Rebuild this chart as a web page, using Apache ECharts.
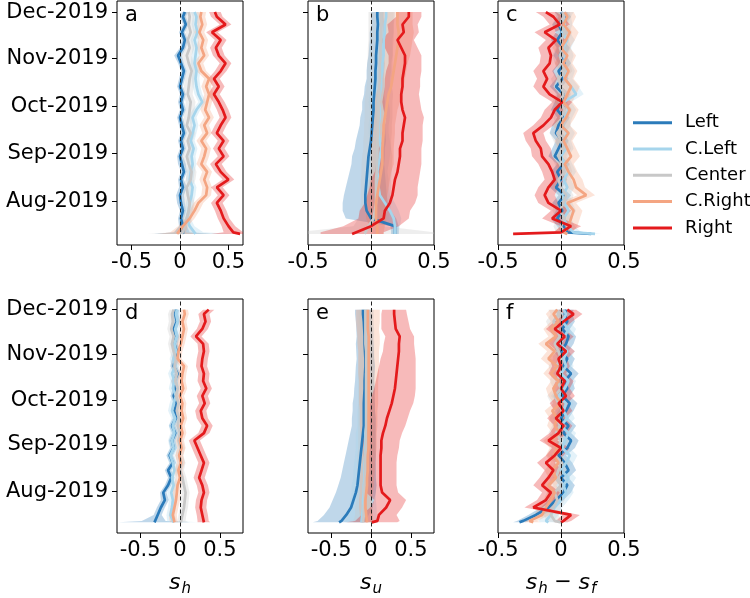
<!DOCTYPE html>
<html><head><meta charset="utf-8">
<script src="https://cdn.jsdelivr.net/npm/echarts@6/dist/echarts.min.js"></script>
<style>html,body{margin:0;padding:0;background:#fff}#c{width:750px;height:598px}</style>
</head><body><div id="c"></div><script>
// ---------- data ----------
const dates = ['2019-07-11','2019-07-12','2019-07-16','2019-07-21','2019-07-26','2019-07-31','2019-08-05','2019-08-10','2019-08-15','2019-08-20','2019-08-25','2019-08-30','2019-09-04','2019-09-09','2019-09-14','2019-09-19','2019-09-24','2019-09-29','2019-10-04','2019-10-09','2019-10-14','2019-10-19','2019-10-24','2019-10-29','2019-11-03','2019-11-08','2019-11-13','2019-11-18','2019-11-23','2019-11-28','2019-12-01'];
const monthTicks = ['2019-08-01','2019-09-01','2019-10-01','2019-11-01','2019-12-01'];
const monthLabels = ['Aug-2019','Sep-2019','Oct-2019','Nov-2019','Dec-2019'];
const xTicks = [-0.5, 0, 0.5];
const xTickLabels = ['-0.5', '0', '0.5'];
const groupNames = ['Left','C.Left','Center','C.Right','Right'];

// panel a (s_h)
const aLeft   = [0.03,0.02,0.03,0.01,0.03, 0.01,0.00,0.03,0.01,0.04, 0.02,0.00,0.03,0.01,0.04, 0.02,0.00,0.03,0.01,0.03, 0.00,0.02,0.04,0.01,-0.02, 0.03,0.05,0.02,0.06,0.03, 0.05];
const aLeftW  = [0.30,0.08,0.04,0.03,0.03, 0.04,0.04,0.04,0.03,0.03, 0.04,0.03,0.03,0.03,0.03, 0.03,0.03,0.03,0.03,0.03, 0.03,0.03,0.03,0.03,0.04, 0.03,0.03,0.03,0.03,0.03, 0.03];
const aCLeft  = [0.16,0.14,0.10,0.07,0.09, 0.10,0.12,0.13,0.10,0.11, 0.13,0.12,0.14,0.11,0.13, 0.15,0.13,0.17,0.23,0.19, 0.17,0.16,0.17,0.15,0.16, 0.17,0.15,0.18,0.16,0.17, 0.15];
const aCLeftW = [0.40,0.10,0.05,0.04,0.04, 0.04,0.04,0.04,0.04,0.04, 0.04,0.04,0.04,0.04,0.04, 0.04,0.04,0.04,0.04,0.04, 0.04,0.04,0.04,0.04,0.04, 0.04,0.04,0.04,0.04,0.04, 0.04];
const aCenter = [0.02,0.03,0.05,0.07,0.09, 0.10,0.08,0.07,0.11,0.12, 0.09,0.07,0.10,0.08,0.11, 0.07,0.09,0.10,0.11,0.08, 0.09,0.10,0.12,0.09,0.07, 0.10,0.08,0.11,0.09,0.10, 0.09];
const aCenterW= [0.35,0.10,0.05,0.05,0.05, 0.05,0.05,0.05,0.05,0.05, 0.05,0.05,0.05,0.05,0.05, 0.05,0.05,0.05,0.05,0.05, 0.05,0.05,0.05,0.05,0.05, 0.05,0.05,0.05,0.05,0.05, 0.05];
const aCRight = [-0.03,-0.02,0.03,0.10,0.15, 0.19,0.27,0.28,0.25,0.28, 0.22,0.25,0.27,0.22,0.28, 0.25,0.30,0.26,0.28,0.30, 0.27,0.30,0.22,0.19,0.25, 0.22,0.24,0.20,0.23,0.21, 0.22];
const aCRightW= [0.20,0.08,0.05,0.05,0.05, 0.05,0.05,0.05,0.05,0.05, 0.05,0.05,0.05,0.05,0.05, 0.05,0.05,0.05,0.05,0.05, 0.05,0.05,0.05,0.05,0.05, 0.05,0.05,0.05,0.05,0.05, 0.05];
const aRight  = [0.62,0.55,0.50,0.45,0.42, 0.38,0.45,0.38,0.50,0.42, 0.37,0.45,0.40,0.45,0.38, 0.42,0.47,0.44,0.40,0.35, 0.40,0.35,0.42,0.47,0.40, 0.37,0.42,0.33,0.47,0.38, 0.36];
const aRightW = [0.30,0.10,0.07,0.06,0.06, 0.06,0.06,0.06,0.06,0.06, 0.06,0.06,0.06,0.06,0.06, 0.06,0.06,0.06,0.06,0.06, 0.06,0.06,0.06,0.06,0.06, 0.06,0.06,0.06,0.06,0.06, 0.06];

// panel b (s_u)
const bLeft   = [0.19,0.19,0.19,0.00,-0.035, -0.045,-0.045,-0.04,-0.035,-0.03, -0.025,-0.02,-0.01,0.00,0.005, 0.01,0.015,0.02,0.02,0.025, 0.03,0.035,0.035,0.04,0.04, 0.045,0.05,0.05,0.055,0.05, 0.05];
const bLeftW  = [0.03,0.03,0.03,0.20,0.19, 0.18,0.17,0.16,0.15,0.14, 0.13,0.13,0.12,0.12,0.11, 0.10,0.10,0.09,0.09,0.08, 0.08,0.07,0.07,0.07,0.06, 0.06,0.06,0.06,0.05,0.05, 0.05];
const bCLeft  = [0.19,0.19,0.19,0.18,0.15, 0.11,0.07,0.06,0.06,0.05, 0.06,0.07,0.08,0.07,0.06, 0.06,0.07,0.07,0.06,0.07, 0.08,0.08,0.09,0.09,0.10, 0.10,0.10,0.11,0.11,0.12, 0.12];
const bCLeftW = [0.03,0.03,0.04,0.06,0.07, 0.08,0.08,0.08,0.08,0.08, 0.08,0.08,0.08,0.08,0.08, 0.08,0.08,0.08,0.08,0.08, 0.07,0.07,0.07,0.07,0.07, 0.07,0.07,0.07,0.07,0.07, 0.07];
const bCenter = [-0.05,-0.04,-0.02,0.02,0.03, 0.04,0.04,0.04,0.04,0.045, 0.045,0.05,0.05,0.05,0.055, 0.055,0.06,0.06,0.06,0.065, 0.065,0.07,0.07,0.07,0.075, 0.075,0.08,0.08,0.08,0.08, 0.08];
const bCenterW= [0.60,0.55,0.12,0.12,0.12, 0.12,0.12,0.12,0.12,0.12, 0.12,0.12,0.11,0.11,0.11, 0.11,0.11,0.11,0.11,0.11, 0.10,0.10,0.10,0.10,0.10, 0.10,0.10,0.10,0.10,0.10, 0.10];
const bCRight = [0.05,0.05,0.05,0.04,0.04, 0.04,0.05,0.06,0.07,0.08, 0.09,0.09,0.09,0.095,0.10, 0.10,0.11,0.12,0.13,0.14, 0.16,0.17,0.18,0.19,0.20, 0.21,0.22,0.22,0.21,0.21, 0.21];
const bCRightW= [0.05,0.05,0.06,0.08,0.08, 0.08,0.08,0.08,0.08,0.08, 0.09,0.09,0.09,0.09,0.09, 0.09,0.09,0.09,0.10,0.10, 0.10,0.10,0.10,0.10,0.11, 0.11,0.11,0.12,0.12,0.12, 0.12];
const bRight  = [-0.15,-0.15,0.00,0.10,0.11, 0.15,0.17,0.18,0.19,0.21, 0.22,0.23,0.23,0.25,0.25, 0.26,0.27,0.25,0.24,0.24, 0.25,0.25,0.26,0.27,0.27, 0.24,0.21,0.26,0.25,0.30, 0.30];
const bRightW = [0.25,0.25,0.22,0.20,0.20, 0.20,0.20,0.19,0.19,0.18, 0.18,0.17,0.17,0.16,0.16, 0.15,0.15,0.15,0.15,0.14, 0.14,0.14,0.14,0.13,0.13, 0.13,0.13,0.12,0.12,0.10, 0.10];

// panel c (s_h - s_f)
const cLeft   = [0.24,0.05,0.02,-0.03,0.01, -0.02,0.03,-0.04,0.00,-0.03, 0.02,-0.05,-0.02,0.01,-0.04, -0.02,0.02,-0.03,0.00,0.02, -0.04,0.01,-0.02,0.03,-0.01, 0.02,-0.03,0.01,-0.02,0.03, 0.00];
const cLeftW  = [0.03,0.05,0.05,0.05,0.05, 0.05,0.05,0.05,0.05,0.05, 0.05,0.05,0.05,0.05,0.05, 0.05,0.05,0.05,0.05,0.05, 0.05,0.05,0.05,0.05,0.05, 0.05,0.05,0.05,0.05,0.05, 0.05];
const cCLeft  = [0.27,0.10,0.05,0.02,0.06, 0.03,0.01,0.05,0.02,0.06, 0.03,0.00,0.04,0.02,0.05, 0.01,0.03,0.06,0.02,0.12, 0.08,0.03,0.05,0.02,0.04, 0.02,0.05,0.01,0.03,0.02, 0.04];
const cCLeftW = [0.05,0.06,0.06,0.06,0.06, 0.06,0.06,0.06,0.06,0.06, 0.06,0.06,0.06,0.06,0.06, 0.06,0.06,0.06,0.06,0.06, 0.06,0.06,0.06,0.06,0.06, 0.06,0.06,0.06,0.06,0.06, 0.06];
const cCenter = [0.05,0.02,0.00,0.03,-0.01, 0.02,0.04,0.00,-0.02,0.03, 0.01,-0.02,0.02,0.00,-0.03, 0.02,0.00,0.03,-0.01,0.02, 0.00,-0.02,0.03,0.01,-0.01, 0.02,0.00,0.03,-0.01,0.02, 0.01];
const cCenterW= [0.06,0.06,0.06,0.06,0.06, 0.06,0.06,0.06,0.06,0.06, 0.06,0.06,0.06,0.06,0.06, 0.06,0.06,0.06,0.06,0.06, 0.06,0.06,0.06,0.06,0.06, 0.06,0.06,0.06,0.06,0.06, 0.06];
const cCRight = [0.05,0.02,0.06,0.08,0.10, 0.05,0.20,0.12,0.10,0.06, 0.03,0.08,0.05,0.02,0.06, 0.00,0.04,0.07,0.02,0.05, 0.08,0.03,0.06,0.02,0.05, 0.00,0.04,0.07,0.02,0.05, 0.03];
const cCRightW= [0.06,0.07,0.07,0.07,0.07, 0.07,0.07,0.07,0.07,0.07, 0.07,0.07,0.07,0.07,0.07, 0.07,0.07,0.07,0.07,0.07, 0.07,0.07,0.07,0.07,0.07, 0.07,0.07,0.07,0.07,0.07, 0.07];
const cRight  = [-0.38,0.00,0.08,-0.07,0.00, -0.10,-0.13,-0.10,-0.05,-0.07, -0.10,-0.15,-0.16,-0.20,-0.22, -0.14,-0.08,-0.05,0.01,-0.09, -0.14,-0.11,-0.14,-0.09,-0.08, -0.10,-0.04,-0.13,-0.01,-0.06, -0.12];
const cRightW = [0.02,0.06,0.08,0.08,0.08, 0.08,0.08,0.08,0.08,0.08, 0.08,0.08,0.08,0.08,0.08, 0.08,0.08,0.08,0.08,0.08, 0.08,0.08,0.08,0.08,0.08, 0.08,0.08,0.08,0.08,0.08, 0.08];

// panel d (s_h)
const dLeft   = [-0.32,-0.33,-0.28,-0.24,-0.19, -0.21,-0.15,-0.11,-0.15,-0.09, -0.13,-0.08,-0.10,-0.06,-0.10, -0.05,-0.07,-0.04,-0.08,-0.05, -0.07,-0.03,-0.08,-0.06,-0.04, -0.07,-0.05,-0.08,-0.04,-0.06, -0.05];
const dLeftW  = [0.45,0.15,0.05,0.05,0.05, 0.04,0.04,0.04,0.04,0.04, 0.04,0.04,0.04,0.04,0.04, 0.04,0.04,0.04,0.04,0.04, 0.04,0.04,0.04,0.04,0.04, 0.04,0.04,0.04,0.04,0.04, 0.04];
const dCLeft  = [-0.08,-0.10,-0.12,-0.10,-0.09, -0.11,-0.08,-0.10,-0.07,-0.09, -0.12,-0.08,-0.10,-0.07,-0.09, -0.06,-0.10,-0.08,-0.05,-0.09, -0.07,-0.10,-0.06,-0.08,-0.05, -0.07,-0.04,-0.06,-0.03,-0.05, -0.04];
const dCLeftW = [0.30,0.06,0.05,0.05,0.05, 0.05,0.05,0.05,0.05,0.05, 0.05,0.05,0.05,0.05,0.05, 0.05,0.05,0.05,0.05,0.05, 0.05,0.05,0.05,0.05,0.05, 0.05,0.05,0.05,0.05,0.05, 0.05];
const dCenter = [0.01,0.02,0.03,0.05,0.06, 0.07,0.05,0.03,0.00,0.02, -0.01,0.01,-0.02,0.00,-0.03, -0.01,-0.04,-0.02,-0.05,-0.03, -0.06,-0.04,-0.07,-0.05,-0.08, -0.10,-0.08,-0.11,-0.09,-0.10, -0.08];
const dCenterW= [0.10,0.05,0.05,0.05,0.05, 0.05,0.05,0.05,0.05,0.05, 0.05,0.05,0.05,0.05,0.05, 0.05,0.05,0.05,0.05,0.05, 0.05,0.05,0.05,0.05,0.05, 0.05,0.05,0.05,0.05,0.05, 0.05];
const dCRight = [-0.07,-0.08,-0.09,-0.07,-0.05, -0.04,-0.03,0.00,-0.02,0.01, -0.01,0.02,0.00,0.03,0.01, 0.04,0.02,0.03,0.00,0.04, 0.02,0.03,0.05,-0.03,-0.02, 0.01,0.03,0.05,0.03,0.06, 0.05];
const dCRightW= [0.05,0.05,0.05,0.05,0.05, 0.05,0.05,0.05,0.05,0.05, 0.05,0.05,0.05,0.05,0.05, 0.05,0.05,0.05,0.05,0.05, 0.05,0.05,0.05,0.05,0.05, 0.05,0.05,0.05,0.05,0.05, 0.05];
const dRight  = [0.30,0.29,0.28,0.26,0.27, 0.30,0.28,0.24,0.27,0.30, 0.26,0.22,0.18,0.30,0.34, 0.28,0.26,0.31,0.28,0.33, 0.29,0.30,0.27,0.28,0.30, 0.29,0.20,0.28,0.32,0.30, 0.36];
const dRightW = [0.08,0.07,0.07,0.07,0.07, 0.07,0.07,0.07,0.07,0.07, 0.07,0.07,0.07,0.07,0.07, 0.07,0.07,0.07,0.07,0.07, 0.07,0.07,0.07,0.07,0.07, 0.07,0.07,0.07,0.07,0.07, 0.07];

// panel e (s_u)
const eLeft   = [-0.40,-0.37,-0.31,-0.25,-0.22, -0.19,-0.17,-0.16,-0.15,-0.14, -0.13,-0.12,-0.11,-0.10,-0.09, -0.09,-0.09,-0.09,-0.085,-0.08, -0.08,-0.075,-0.07,-0.07,-0.075, -0.08,-0.08,-0.085,-0.09,-0.10, -0.10];
const eLeftW  = [0.33,0.30,0.28,0.27,0.26, 0.25,0.24,0.22,0.21,0.20, 0.19,0.18,0.17,0.16,0.15, 0.15,0.14,0.14,0.13,0.13, 0.12,0.12,0.12,0.11,0.11, 0.11,0.10,0.10,0.10,0.10, 0.10];
const eCLeft  = [-0.12,-0.12,-0.11,-0.10,-0.10, -0.09,-0.09,-0.08,-0.08,-0.08, -0.07,-0.07,-0.07,-0.07,-0.06, -0.06,-0.06,-0.06,-0.06,-0.06, -0.06,-0.06,-0.05,-0.05,-0.05, -0.05,-0.05,-0.05,-0.06,-0.06, -0.06];
const eCLeftW = [0.20,0.20,0.18,0.17,0.16, 0.15,0.15,0.14,0.14,0.13, 0.13,0.12,0.12,0.12,0.11, 0.11,0.11,0.10,0.10,0.10, 0.10,0.10,0.10,0.09,0.09, 0.09,0.09,0.09,0.09,0.09, 0.09];
const eCenter = [-0.10,-0.10,-0.09,-0.09,-0.08, -0.08,-0.08,-0.07,-0.07,-0.07, -0.07,-0.06,-0.06,-0.06,-0.06, -0.06,-0.06,-0.06,-0.06,-0.06, -0.06,-0.06,-0.06,-0.06,-0.06, -0.07,-0.07,-0.07,-0.07,-0.07, -0.07];
const eCenterW= [0.12,0.12,0.11,0.11,0.10, 0.10,0.10,0.10,0.10,0.10, 0.10,0.10,0.10,0.10,0.10, 0.10,0.10,0.10,0.10,0.10, 0.10,0.10,0.10,0.10,0.10, 0.10,0.10,0.10,0.10,0.10, 0.10];
const eCRight = [-0.05,-0.05,-0.06,-0.07,-0.07, -0.06,-0.05,-0.05,-0.04,-0.04, -0.04,-0.03,-0.03,-0.03,-0.03, -0.03,-0.03,-0.03,-0.03,-0.03, -0.03,-0.03,-0.03,-0.03,-0.03, -0.03,-0.03,-0.04,-0.04,-0.04, -0.04];
const eCRightW= [0.08,0.08,0.08,0.08,0.08, 0.08,0.09,0.09,0.09,0.09, 0.10,0.10,0.10,0.10,0.11, 0.11,0.11,0.12,0.12,0.12, 0.12,0.13,0.13,0.13,0.13, 0.14,0.14,0.14,0.15,0.15, 0.15];
const eRight  = [0.01,0.08,0.10,0.19,0.24, 0.14,0.12,0.12,0.12,0.12, 0.12,0.13,0.13,0.15,0.18, 0.20,0.23,0.26,0.28,0.30, 0.31,0.32,0.33,0.34,0.35, 0.35,0.36,0.31,0.30,0.29, 0.29];
const eRightW = [0.32,0.28,0.22,0.20,0.20, 0.20,0.20,0.20,0.20,0.20, 0.21,0.22,0.23,0.24,0.25, 0.26,0.26,0.27,0.27,0.26, 0.25,0.24,0.23,0.22,0.20, 0.19,0.18,0.18,0.17,0.16, 0.15];

// panel f (s_h - s_f)
const fLeft   = [-0.33,-0.30,-0.20,-0.10,-0.04, 0.02,0.05,0.00,0.06,0.03, -0.02,0.05,0.08,0.02,0.06, 0.00,0.04,0.07,0.01,0.05, 0.03,0.08,0.02,0.05,0.00, 0.04,0.06,0.01,0.05,0.03, 0.04];
const fLeftW  = [0.05,0.05,0.06,0.06,0.06, 0.06,0.06,0.06,0.06,0.06, 0.06,0.06,0.06,0.06,0.06, 0.06,0.06,0.06,0.06,0.06, 0.06,0.06,0.06,0.06,0.06, 0.06,0.06,0.06,0.06,0.06, 0.06];
const fCLeft  = [-0.10,-0.12,-0.08,-0.05,0.00, 0.04,0.02,0.06,0.00,0.04, 0.07,0.01,0.03,0.06,0.00, 0.05,0.02,0.04,-0.02,0.03, 0.06,0.00,0.04,0.02,0.05, -0.01,0.03,0.06,0.01,0.04, 0.02];
const fCLeftW = [0.06,0.06,0.06,0.06,0.06, 0.06,0.06,0.06,0.06,0.06, 0.06,0.06,0.06,0.06,0.06, 0.06,0.06,0.06,0.06,0.06, 0.06,0.06,0.06,0.06,0.06, 0.06,0.06,0.06,0.06,0.06, 0.06];
const fCenter = [0.00,-0.05,-0.08,-0.06,-0.03, -0.05,0.00,-0.04,-0.02,0.01, -0.05,-0.02,0.00,-0.04,-0.01, -0.03,0.01,-0.02,-0.05,0.00, -0.03,-0.01,-0.04,0.00,-0.02, -0.05,-0.01,-0.03,-0.06,-0.02, -0.04];
const fCenterW= [0.06,0.06,0.06,0.06,0.06, 0.06,0.06,0.06,0.06,0.06, 0.06,0.06,0.06,0.06,0.06, 0.06,0.06,0.06,0.06,0.06, 0.06,0.06,0.06,0.06,0.06, 0.06,0.06,0.06,0.06,0.06, 0.06];
const fCRight = [-0.22,-0.25,-0.15,-0.12,-0.08, -0.05,-0.10,-0.04,-0.07,-0.02, -0.06,-0.03,-0.08,-0.01,-0.05, -0.03,-0.07,0.00,-0.04,-0.06, -0.02,-0.08,-0.03,-0.10,-0.05, -0.12,-0.04,-0.08,-0.02,-0.06, -0.03];
const fCRightW= [0.06,0.06,0.06,0.06,0.06, 0.06,0.06,0.06,0.06,0.06, 0.06,0.06,0.06,0.06,0.06, 0.06,0.06,0.06,0.06,0.06, 0.06,0.06,0.06,0.06,0.06, 0.06,0.06,0.06,0.06,0.06, 0.06];
const fRight  = [0.00,0.02,0.08,-0.22,-0.12, -0.08,-0.15,-0.10,-0.06,-0.12, -0.05,0.00,-0.10,-0.02,0.02, -0.04,0.02,-0.02,0.04,0.00, 0.03,-0.03,0.00,-0.02,0.04, -0.03,0.03,-0.05,0.02,0.10, 0.05];
const fRightW = [0.05,0.06,0.07,0.07,0.07, 0.07,0.07,0.07,0.07,0.07, 0.07,0.07,0.07,0.07,0.07, 0.07,0.07,0.07,0.07,0.07, 0.07,0.07,0.07,0.07,0.07, 0.07,0.07,0.07,0.07,0.07, 0.07];

// ---------- styling / layout ----------
const FONT = 'DejaVu Sans';
const groupColors = ['#2b7bba', '#a6d5ec', '#c8c8c8', '#f4a582', '#e41a1c'];
const panels = [
  {letter:'a', vals:[aLeft,aCLeft,aCenter,aCRight,aRight], w:[aLeftW,aCLeftW,aCenterW,aCRightW,aRightW], xr:[-0.65,0.65], left:117, top:1, yl:true, name:null},
  {letter:'b', vals:[bLeft,bCLeft,bCenter,bCRight,bRight], w:[bLeftW,bCLeftW,bCenterW,bCRightW,bRightW], xr:[-0.5,0.5], left:308, top:1, yl:false, name:null},
  {letter:'c', vals:[cLeft,cCLeft,cCenter,cCRight,cRight], w:[cLeftW,cCLeftW,cCenterW,cCRightW,cRightW], xr:[-0.5,0.5], left:498, top:1, yl:false, name:null},
  {letter:'d', vals:[dLeft,dCLeft,dCenter,dCRight,dRight], w:[dLeftW,dCLeftW,dCenterW,dCRightW,dRightW], xr:[-0.79,0.79], left:117, top:299, yl:true, name:'{s|s}{sub|h}'},
  {letter:'e', vals:[eLeft,eCLeft,eCenter,eCRight,eRight], w:[eLeftW,eCLeftW,eCenterW,eCRightW,eRightW], xr:[-0.79,0.79], left:308, top:299, yl:false, name:'{s|s}{sub|u}'},
  {letter:'f', vals:[fLeft,fCLeft,fCenter,fCRight,fRight], w:[fLeftW,fCLeftW,fCenterW,fCRightW,fRightW], xr:[-0.5,0.5], left:498, top:299, yl:false, name:'{s|s}{sub|h}{m| \u2212 }{s|s}{sub|f}'}
];

const toT = s => Date.parse(s + 'T00:00:00Z');
const T = dates.map(toT);
const tickT = monthTicks.map(toT);
const DAY = 864e5;
const yMin = toT('2019-07-11') - 7.15 * DAY;
const yMax = toT('2019-12-01') + 7.15 * DAY;

panels.forEach(p => { p.vals.concat(p.w).forEach((a, i) => { if (a.length !== T.length) console.error('len mismatch', p.letter, i, a.length); }); });

const grids = [], xAxes = [], yAxes = [], series = [], titles = [];
panels.forEach((p, pi) => {
  grids.push({left:p.left, top:p.top, width:126, height:244, show:true, borderColor:'#000', borderWidth:1, backgroundColor:'#fff'});
  xAxes.push({
    gridIndex:pi, type:'value', min:p.xr[0], max:p.xr[1], position:'bottom',
    axisLine:{show:false, onZero:false}, splitLine:{show:false},
    axisTick:{show:true, customValues:xTicks, length:5, lineStyle:{color:'#000', width:1}},
    axisLabel:{customValues:xTicks, fontSize:21, color:'#000', fontFamily:FONT, margin:7,
      formatter: v => { const i = xTicks.findIndex(t => Math.abs(t - v) < 1e-9); return i >= 0 ? xTickLabels[i] : ''; }},
    name: p.name || '', nameLocation:'middle', nameGap:36,
    nameTextStyle:{color:'#000', fontFamily:FONT, rich:{
      s:{fontSize:22, fontStyle:'italic', fontFamily:FONT, color:'#000'},
      sub:{fontSize:15, fontStyle:'italic', fontFamily:FONT, color:'#000', padding:[13,0,0,1]},
      m:{fontSize:21, fontFamily:FONT, color:'#000'}
    }}
  });
  yAxes.push({
    gridIndex:pi, type:'value', min:yMin, max:yMax, position:'left',
    axisLine:{show:false, onZero:false}, splitLine:{show:false},
    axisTick:{show:true, customValues:tickT, length:5, lineStyle:{color:'#000', width:1}},
    axisLabel:{show:p.yl, customValues:tickT, fontSize:21, color:'#000', fontFamily:FONT, margin:9,
      formatter: v => { const i = tickT.indexOf(v); return i >= 0 ? monthLabels[i] : ''; }}
  });
  titles.push({text:p.letter, left:p.left + 8, top:p.top + 4, padding:0,
    textStyle:{fontSize:21, fontWeight:'normal', color:'#000', fontFamily:FONT}});
  p.vals.forEach((vals, g) => {
    const w = p.w[g];
    const rows = T.map((t, k) => [vals[k] - w[k], vals[k] + w[k], t]);
    series.push({
      type:'custom', name:groupNames[g] + ' band', xAxisIndex:pi, yAxisIndex:pi, silent:true, z:1, clip:true,
      data: rows, encode:{x:[0,1], y:2},
      renderItem: (params, api) => {
        if (params.dataIndex !== 0) return null;
        const pts = [];
        for (let k = 0; k < rows.length; k++) pts.push(api.coord([rows[k][0], rows[k][2]]));
        for (let k = rows.length - 1; k >= 0; k--) pts.push(api.coord([rows[k][1], rows[k][2]]));
        return {type:'polygon', shape:{points:pts}, style:{fill:groupColors[g], opacity:0.3}};
      }
    });
  });
  p.vals.forEach((vals, g) => {
    const s = {
      type:'line', name:groupNames[g], xAxisIndex:pi, yAxisIndex:pi, z:2 + g * 0.1,
      data: T.map((t, k) => [vals[k], t]),
      showSymbol:false, symbol:'none', color:groupColors[g],
      lineStyle:{width:2.7, color:groupColors[g]}, silent:true
    };
    if (g === 4) {
      s.markLine = {silent:true, symbol:'none', label:{show:false}, z:5,
        lineStyle:{type:[4,2.5], color:'#222', width:1}, data:[{xAxis:0}]};
    }
    series.push(s);
  });
});

const chart = echarts.init(document.getElementById('c'), null, {renderer:'canvas'});
chart.setOption({
  animation:false,
  backgroundColor:'#fff',
  title: titles,
  grid: grids, xAxis: xAxes, yAxis: yAxes, series: series,
  legend: {
    data: groupNames.map(n => ({name:n, icon:'rect'})),
    orient:'vertical', left:633, top:112.7, padding:0,
    itemWidth:39, itemHeight:3, itemGap:6.3, selectedMode:false,
    textStyle:{fontSize:18, lineHeight:20, color:'#000', fontFamily:FONT, padding:[0,0,0,8]}
  }
});
</script></body></html>
